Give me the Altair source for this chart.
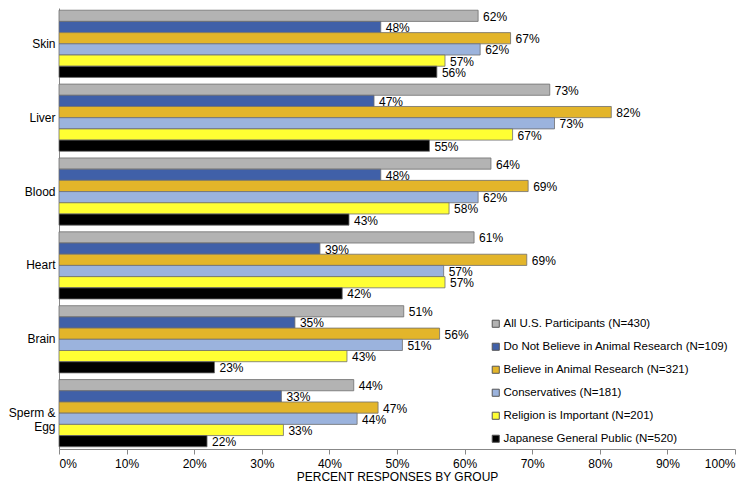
import altair as alt
import pandas as pd

categories = ["Skin", "Liver", "Blood", "Heart", "Brain", "Sperm & Egg"]
series = [
    "All U.S. Participants (N=430)",
    "Do Not Believe in Animal Research (N=109)",
    "Believe in Animal Research (N=321)",
    "Conservatives (N=181)",
    "Religion is Important (N=201)",
    "Japanese General Public (N=520)",
]
colors = ["#B3B3B3", "#4060A8", "#E3B52A", "#9BB3DD", "#FFFF33", "#000000"]

# values per series, in category order
all_us = [62.0, 72.6, 63.9, 61.4, 51.0, 43.6]
not_believe = [47.6, 46.6, 47.6, 38.6, 34.9, 32.9]
believe = [66.8, 81.7, 69.4, 69.2, 56.3, 47.2]
conservatives = [62.3, 73.3, 62.0, 56.9, 50.8, 44.1]
religion = [57.1, 67.1, 57.7, 57.1, 42.6, 33.2]
japanese = [55.9, 54.8, 42.9, 41.9, 23.0, 21.9]

series_values = [all_us, not_believe, believe, conservatives, religion, japanese]

rows = []
for s, vals in zip(series, series_values):
    for c, v in zip(categories, vals):
        rows.append({"category": c, "series": s, "value": v, "label": f"{round(v)}%"})
df = pd.DataFrame(rows)

font = "Liberation Sans"

y_enc = alt.Y(
    "category:N",
    sort=categories,
    scale=alt.Scale(paddingInner=0.09, paddingOuter=0.03),
    axis=alt.Axis(
        title=None,
        ticks=False,
        labelFontSize=12,
        labelColor="#000000",
        labelFont=font,
        labelPadding=4,
        domainColor="#888888",
        labelExpr="datum.value == 'Sperm & Egg' ? ['Sperm &', 'Egg'] : datum.value",
    ),
)
yoff = alt.YOffset("series:N", sort=series)

x_enc = alt.X(
    "value:Q",
    scale=alt.Scale(domain=[0, 100]),
    axis=alt.Axis(
        values=list(range(0, 101, 10)),
        labelExpr="datum.value + '%'",
        grid=False,
        tickSize=5,
        tickColor="#888888",
        domainColor="#888888",
        labelFontSize=12,
        labelColor="#000000",
        labelFont=font,
        labelPadding=4,
        title="PERCENT RESPONSES BY GROUP",
        titleFontSize=12,
        titleFontWeight="normal",
        titleFont=font,
        titleColor="#000000",
        titlePadding=2,
    ),
)

bars = alt.Chart(df).mark_bar(stroke="#6E6E6E", strokeWidth=0.8).encode(
    y=y_enc,
    yOffset=yoff,
    x=x_enc,
    color=alt.Color(
        "series:N",
        sort=series,
        scale=alt.Scale(domain=series, range=colors),
        legend=alt.Legend(
            title=None,
            orient="none",
            legendX=431,
            legendY=310,
            padding=0,
            symbolType="square",
            symbolSize=50,
            symbolStrokeColor="#555555",
            symbolStrokeWidth=1,
            labelFontSize=11.5,
            labelFont=font,
            labelColor="#000000",
            labelOffset=2,
            rowPadding=10,
            labelLimit=400,
        ),
    ),
)

labels = alt.Chart(df).mark_text(
    align="left", baseline="middle", dx=5, dy=1, fontSize=12, font=font, color="#000000"
).encode(
    y=alt.Y("category:N", sort=categories),
    yOffset=yoff,
    x=alt.X("value:Q"),
    text="label:N",
)

chart = (
    alt.layer(bars, labels)
    .properties(
        width=728,
        height=474,
        padding={"top": 0, "left": 0, "right": 0, "bottom": 0},
        autosize=alt.AutoSizeParams(type="fit", contains="padding"),
    )
    .configure_view(stroke=None)
)

chart.save("out.html", embed_options={"renderer": "svg", "actions": False})
